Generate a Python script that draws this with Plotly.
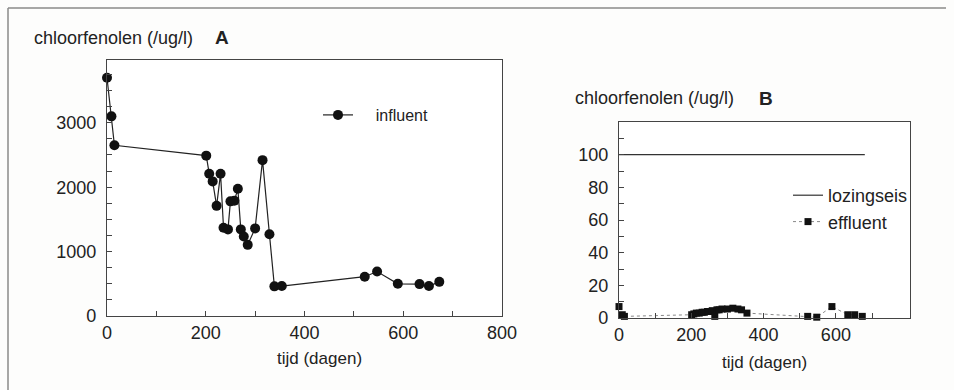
import plotly.graph_objects as go

# ---- data ----
days_infl = [0, 9, 15, 201, 207, 214, 222, 230, 236, 245, 250, 258, 265, 271, 277, 285,
             300, 315, 329, 339, 354, 522, 547, 589, 633, 652, 673]
influent = [3700, 3100, 2650, 2490, 2210, 2090, 1710, 2210, 1370, 1345, 1780, 1790, 1975,
            1345, 1235, 1105, 1360, 2420, 1270, 460, 465, 610, 690, 500, 495, 465, 530]

days_effl = [0, 9, 15, 201, 207, 214, 222, 230, 236, 245, 250, 258, 265, 271, 277, 285,
             300, 315, 329, 339, 354, 522, 547, 589, 633, 652, 673]
effluent = [7, 2, 1, 2, 2.5, 3, 3, 3.5, 3.5, 4, 4, 4.5, 1, 5, 5, 5.5,
            5.5, 6, 5.5, 5, 3, 1, 0.5, 7, 2, 2, 1]

norm_days = [0, 680]
norm_vals = [100, 100]

y_label = "chloorfenolen (/ug/l)"
x_label = "tijd (dagen)"

W, H = 954, 390
FONT = "Liberation Sans, Arial, sans-serif"
INK = "#222222"
AX = "#444444"
NB = "\u00a0"

fig = go.Figure()

fig.add_trace(go.Scatter(
    x=days_infl, y=influent, mode="lines+markers", name=NB * 4 + "influent",
    line=dict(color=INK, width=1.2),
    marker=dict(symbol="circle", size=10, color="#111111"),
    cliponaxis=False, xaxis="x", yaxis="y", legend="legend"))

fig.add_trace(go.Scatter(
    x=norm_days, y=norm_vals, mode="lines", name="lozingseis",
    line=dict(color="#333333", width=1.2),
    xaxis="x2", yaxis="y2", legend="legend2"))

fig.add_trace(go.Scatter(
    x=days_effl, y=effluent, mode="lines+markers", name="effluent",
    line=dict(color="#888888", width=1, dash="dot"),
    marker=dict(symbol="square", size=7, color="#111111"),
    cliponaxis=False, xaxis="x2", yaxis="y2", legend="legend2"))

axis_common = dict(showline=True, mirror=True, linecolor=AX, linewidth=1.2,
                   showgrid=False, zeroline=False, ticks="inside", ticklen=5,
                   tickcolor=AX, automargin=False,
                   tickfont=dict(size=18, color=INK, family=FONT))
minor_common = dict(ticks="inside", ticklen=5, tickcolor=AX, tickwidth=1, showgrid=False)

fig.update_layout(
    width=W, height=H,
    margin=dict(l=0, r=0, t=0, b=0, autoexpand=False),
    paper_bgcolor="#fdfdfc", plot_bgcolor="#ffffff",
    font=dict(family=FONT, color=INK),
    xaxis=dict(domain=[107 / W, 502 / W], range=[0, 800], anchor="y", dtick=200,
               minor=dict(dtick=100, **minor_common), **axis_common),
    yaxis=dict(domain=[74 / H, 330 / H], range=[0, 3975], anchor="x", dtick=1000,
               minor=dict(dtick=250, **minor_common), ticklabelstandoff=6, **axis_common),
    xaxis2=dict(domain=[619 / W, 910 / W], range=[0, 805], anchor="y2",
                tickvals=[0, 200, 400, 600],
                minor=dict(tickvals=[100, 300, 500, 700], **minor_common), **axis_common),
    yaxis2=dict(domain=[72 / H, 268 / H], range=[0, 120], anchor="x2",
                tickvals=[0, 20, 40, 60, 80, 100],
                minor=dict(tickvals=[10, 30, 50, 70, 90, 110], **minor_common),
                ticklabelstandoff=6, **axis_common),
    legend=dict(x=318 / W, y=1 - 98 / H, xanchor="left", yanchor="top",
                bgcolor="rgba(0,0,0,0)", font=dict(size=16, color=INK, family=FONT),
                itemwidth=30),
    legend2=dict(x=788 / W, y=1 - 177 / H, xanchor="left", yanchor="top",
                 bgcolor="rgba(0,0,0,0)", font=dict(size=18, color=INK, family=FONT),
                 itemwidth=30, tracegroupgap=0),
    showlegend=True,
)

ann = dict(xref="paper", yref="paper", showarrow=False, font=dict(size=18, color=INK, family=FONT))
ann_x = dict(xref="paper", yref="paper", showarrow=False, font=dict(size=17, color=INK, family=FONT))
bold = dict(xref="paper", yref="paper", showarrow=False, font=dict(size=19, color=INK, family=FONT))
fig.add_annotation(text=y_label, x=32 / W, y=1 - 38 / H, xanchor="left", yanchor="middle", **ann)
fig.add_annotation(text="<b>A</b>", x=213 / W, y=1 - 38 / H, xanchor="left", yanchor="middle", **bold)
fig.add_annotation(text=y_label, x=573 / W, y=1 - 98 / H, xanchor="left", yanchor="middle", **ann)
fig.add_annotation(text="<b>B</b>", x=757 / W, y=1 - 98 / H, xanchor="left", yanchor="middle", **bold)
fig.add_annotation(text=x_label, x=319 / W, y=1 - 358 / H, xanchor="center", yanchor="middle", **ann_x)
fig.add_annotation(text=x_label, x=764 / W, y=1 - 362 / H, xanchor="center", yanchor="middle", **ann_x)

# outer frame (top and left edges of the scanned page box)
fig.add_shape(type="line", xref="paper", yref="paper", x0=8 / W, x1=946 / W, y0=1 - 8 / H, y1=1 - 8 / H,
              line=dict(color="#8a8a8a", width=1.5))
fig.add_shape(type="line", xref="paper", yref="paper", x0=8 / W, x1=8 / W, y0=1 - 8 / H, y1=0,
              line=dict(color="#8a8a8a", width=1.5))

fig.write_html("out.html", config={"displayModeBar": False},
               post_script="document.body.style.margin='0';document.body.style.overflow='hidden';")
